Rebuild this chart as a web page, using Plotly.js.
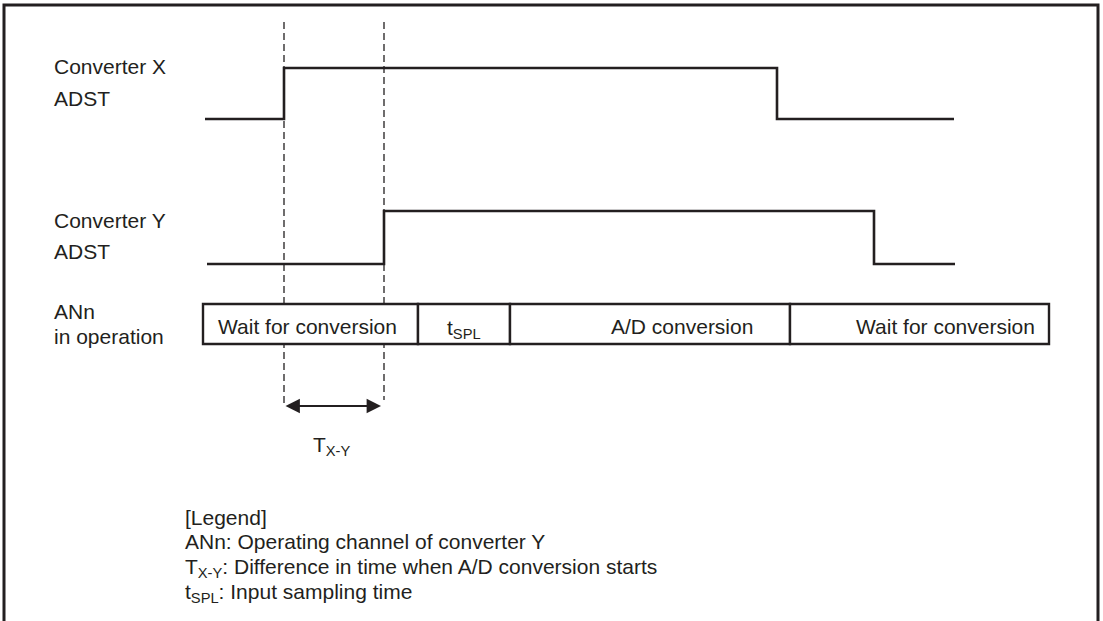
<!DOCTYPE html>
<html>
<head>
<meta charset="utf-8">
<script src="https://cdn.plot.ly/plotly-3.0.1.min.js"></script>
<style>html,body{margin:0;padding:0;background:#fff;}#chart{width:1103px;height:621px;}</style>
</head>
<body>
<div id="chart"></div>
<script>
// ---- data (time axis in drawing units, levels 0 = low, 1 = high) ----
const convXTime  = [205, 284, 284, 777, 777, 954];
const convXLevel = [0, 0, 1, 1, 0, 0];
const convYTime  = [207, 384, 384, 874, 874, 955];
const convYLevel = [0, 0, 1, 1, 0, 0];
const phaseBounds = [203, 418, 510, 790, 1049];
const phaseLabels = ["Wait for conversion", "t<sub>SPL</sub>", "A/D conversion", "Wait for conversion"];
const signalLabels = [["Converter X", "ADST"], ["Converter Y", "ADST"], ["ANn", "in operation"]];
const legendLines = ["[Legend]", "ANn: Operating channel of converter Y",
  "T<sub>X-Y</sub>: Difference in time when A/D conversion starts", "t<sub>SPL</sub>: Input sampling time"];
const diffLabel = "T<sub>X-Y</sub>";

const INK = "#231f20";
const FONT = {family: "Liberation Sans, Arial, Helvetica, sans-serif", size: 21, color: INK};

const traces = [
  {x: convXTime, y: convXLevel, xaxis: "x", yaxis: "y", mode: "lines",
   line: {color: INK, width: 2.6, shape: "linear"}, hoverinfo: "skip", showlegend: false},
  {x: convYTime, y: convYLevel, xaxis: "x", yaxis: "y2", mode: "lines",
   line: {color: INK, width: 2.6, shape: "linear"}, hoverinfo: "skip", showlegend: false},
  // invisible helpers so subplots y3/y4 exist
  {x: [phaseBounds[0]], y: [0], xaxis: "x", yaxis: "y3", mode: "markers", marker: {opacity: 0}, hoverinfo: "skip", showlegend: false},
  {x: [0], y: [0], xaxis: "x", yaxis: "y4", mode: "markers", marker: {opacity: 0}, hoverinfo: "skip", showlegend: false}
];

const shapes = [];
// frame
shapes.push({type: "rect", xref: "x", yref: "y4", x0: 4, x1: 1098, y0: 5, y1: 660,
  line: {color: INK, width: 3}, fillcolor: "rgba(0,0,0,0)"});
// dashed guides at the rising edges
const riseX = convXTime[convXLevel.indexOf(1)];
const riseY = convYTime[convYLevel.indexOf(1)];
shapes.push({type: "line", xref: "x", yref: "y4", x0: riseX, x1: riseX, y0: 22, y1: 407,
  line: {color: INK, width: 1.3, dash: "7px,4px"}});
shapes.push({type: "line", xref: "x", yref: "y4", x0: riseY, x1: riseY, y0: 22, y1: 400,
  line: {color: INK, width: 1.3, dash: "7px,4px"}});
// phase boxes (white fill hides the guides)
for (let i = 0; i < phaseLabels.length; i++) {
  shapes.push({type: "rect", xref: "x", yref: "y3", x0: phaseBounds[i], x1: phaseBounds[i + 1], y0: 0, y1: 1,
    line: {color: INK, width: 2.4}, fillcolor: "#ffffff"});
}

const annotations = [];
const signalY = [[66, 98], [220, 251], [311, 336]];
signalLabels.forEach((pair, i) => pair.forEach((t, j) => {
  annotations.push({text: t, x: 52, y: signalY[i][j], xref: "x", yref: "y4", xanchor: "left", yanchor: "middle",
    showarrow: false, font: FONT});
}));
// phase labels
const phaseY = 326;
annotations.push({text: phaseLabels[0], x: phaseBounds[0] + 13, y: phaseY, xref: "x", yref: "y4", xanchor: "left", yanchor: "middle", showarrow: false, font: FONT});
annotations.push({text: phaseLabels[1], x: (phaseBounds[1] + phaseBounds[2]) / 2, y: phaseY + 3, xref: "x", yref: "y4", xanchor: "center", yanchor: "middle", showarrow: false, font: FONT});
annotations.push({text: phaseLabels[2], x: (phaseBounds[2] + phaseBounds[3]) / 2 + 32, y: phaseY, xref: "x", yref: "y4", xanchor: "center", yanchor: "middle", showarrow: false, font: FONT});
annotations.push({text: phaseLabels[3], x: phaseBounds[4] - 12, y: phaseY, xref: "x", yref: "y4", xanchor: "right", yanchor: "middle", showarrow: false, font: FONT});
// double arrow
annotations.push({x: riseY - 3, y: 406, ax: riseX, ay: 406, xref: "x", yref: "y4", axref: "x", ayref: "y4",
  text: "", showarrow: true, arrowside: "end+start", arrowhead: 2, startarrowhead: 2,
  arrowwidth: 1.8, arrowsize: 1.6, startarrowsize: 1.6, arrowcolor: INK, standoff: 0, startstandoff: 0});
annotations.push({text: diffLabel, x: (riseX + riseY) / 2 - 2, y: 446, xref: "x", yref: "y4", xanchor: "center", yanchor: "middle", showarrow: false, font: FONT});
// legend text
const legendY = [517, 541, 568, 593];
legendLines.forEach((t, i) => annotations.push({text: t, x: 183, y: legendY[i], xref: "x", yref: "y4",
  xanchor: "left", yanchor: "middle", showarrow: false, font: FONT}));

const hidden = {visible: false, showgrid: false, zeroline: false, fixedrange: true};
const layout = {
  width: 1103, height: 621,
  margin: {l: 0, r: 0, t: 0, b: 0, pad: 0},
  paper_bgcolor: "#ffffff", plot_bgcolor: "rgba(0,0,0,0)",
  showlegend: false,
  xaxis: Object.assign({range: [0, 1103], domain: [0, 1], anchor: "y4"}, hidden),
  // converter X: level 0 -> 119px, level 1 -> 68px
  yaxis: Object.assign({range: [-1, 2], domain: [(621 - 170) / 621, (621 - 17) / 621], anchor: "x"}, hidden),
  // converter Y: level 0 -> 264px, level 1 -> 211px
  yaxis2: Object.assign({range: [-1, 2], domain: [(621 - 317) / 621, (621 - 158) / 621], anchor: "x"}, hidden),
  // phase box: 0 -> 344px, 1 -> 304px
  yaxis3: Object.assign({range: [-1, 2], domain: [(621 - 384) / 621, (621 - 264) / 621], anchor: "x"}, hidden),
  // canvas overlay
  yaxis4: Object.assign({range: [621, 0], domain: [0, 1], anchor: "x"}, hidden),
  shapes: shapes,
  annotations: annotations,
  font: FONT
};

Plotly.newPlot("chart", traces, layout, {displayModeBar: false, staticPlot: true});
</script>
</body>
</html>
